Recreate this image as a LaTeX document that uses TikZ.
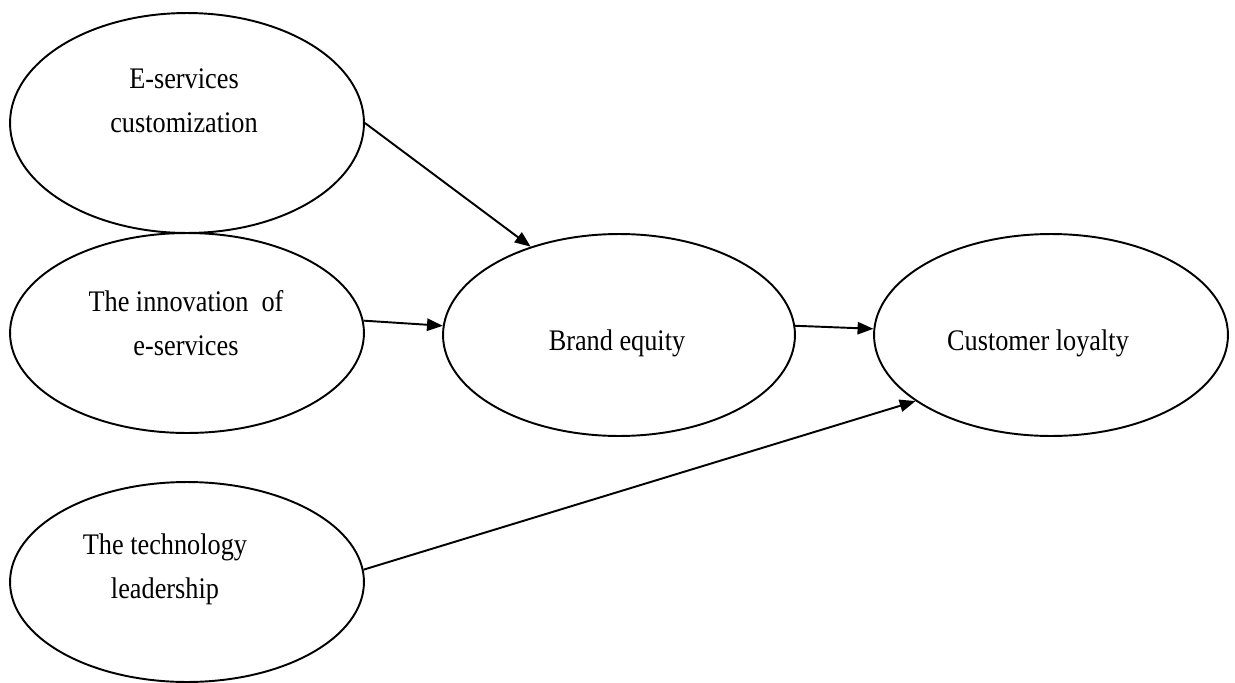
\documentclass[tikz,border=0pt]{standalone}
\usepackage{fontspec}
\setmainfont{Liberation Serif}[FakeStretch=0.88]
\usetikzlibrary{shapes.geometric,arrows.meta}

\begin{document}
\begin{tikzpicture}[x=0.02cm,y=-0.02cm,
    oval/.style={draw,ellipse,line width=1.1pt,inner sep=0pt},
    lbl/.style={align=center,font=\fontsize{17}{25}\selectfont},
    arr/.style={line width=1.1pt,-{Triangle[length=9pt,width=7pt]}}]
    \useasboundingbox (0,0) rectangle (1235,683);

    % Left column
    \node[oval,minimum width=7.08cm,minimum height=4.4cm] (esc) at (187,123) {};
    \node[lbl] (esctxt) at (184,101) {E-services\\customization};

    \node[oval,minimum width=7.08cm,minimum height=4cm] (ino) at (187,333) {};
    \node[lbl] (inotxt) at (186,323) {The innovation~ of\\e-services};

    \node[oval,minimum width=7.08cm,minimum height=4cm] (tech) at (187,582) {};
    \node[lbl] (techtxt) at (165,569) {The technology\\leadership};

    % Brand equity
    \node[oval,minimum width=7.04cm,minimum height=4.04cm] (be) at (619,335) {};
    \node[lbl] (betxt) at (617,343) {Brand equity};

    % Customer loyalty
    \node[oval,minimum width=7.08cm,minimum height=4.04cm] (cl) at (1051,335) {};
    \node[lbl] (cltxt) at (1038,343) {Customer loyalty};

    % Arrows
    \draw[arr] (esc.east) -- (be.135);
    \draw[arr] (ino.4) -- (be.177);
    \draw[arr] (be.3) -- (cl.178);
    \draw[arr] (tech.4) -- (cl.206);

\end{tikzpicture}
\end{document}
